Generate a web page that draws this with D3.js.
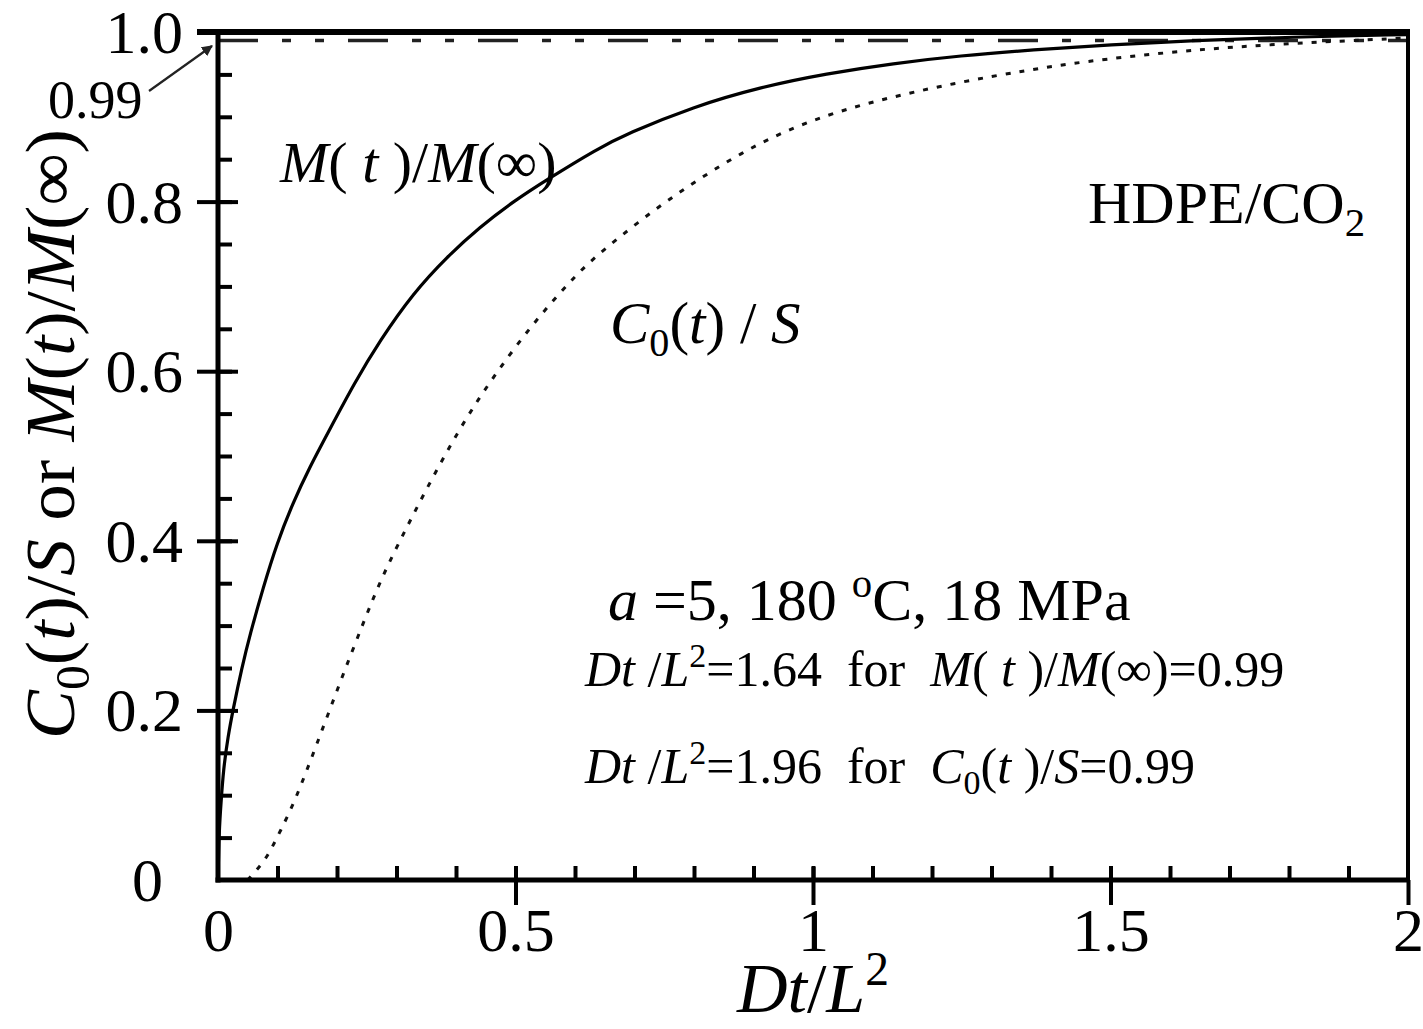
<!DOCTYPE html>
<html>
<head>
<meta charset="utf-8">
<script src="https://cdn.jsdelivr.net/npm/d3@7"></script>
<style>
  body { margin: 0; background: #fff; }
  svg text { font-family: "Liberation Serif", "Times New Roman", serif; fill: #000; white-space: pre; }
</style>
</head>
<body>
<div id="chart"></div>
<script>
// M(t)/M(inf) - solid curve
const mX = [0, 0.002, 0.005, 0.009, 0.017, 0.025, 0.04, 0.054, 0.076, 0.099, 0.126, 0.155, 0.183, 0.23, 0.272, 0.328, 0.385, 0.44, 0.496, 0.553, 0.637, 0.687, 0.799, 0.911, 1.023, 1.135, 1.247, 1.37, 1.5, 1.64, 1.8, 2.0];
const mY = [0, 0.06, 0.09, 0.13, 0.17, 0.2, 0.25, 0.29, 0.345, 0.397, 0.445, 0.488, 0.525, 0.587, 0.636, 0.692, 0.735, 0.77, 0.8, 0.826, 0.862, 0.88, 0.912, 0.935, 0.951, 0.963, 0.972, 0.979, 0.985, 0.99, 0.994, 0.997];

// C0(t)/S - dotted curve
const cX = [0.05, 0.065, 0.082, 0.105, 0.13, 0.166, 0.205, 0.244, 0.277, 0.318, 0.351, 0.407, 0.462, 0.53, 0.592, 0.63, 0.715, 0.799, 0.911, 1.023, 1.135, 1.247, 1.36, 1.454, 1.595, 1.718, 1.847, 2.0];
const cY = [0, 0.012, 0.026, 0.058, 0.094, 0.16, 0.233, 0.303, 0.36, 0.417, 0.462, 0.534, 0.593, 0.657, 0.706, 0.733, 0.781, 0.823, 0.871, 0.903, 0.924, 0.941, 0.955, 0.965, 0.976, 0.983, 0.988, 0.993];

const refLevel = 0.99;

const xMajor = [0, 0.5, 1, 1.5, 2];
const xMajorLabels = ["0", "0.5", "1", "1.5", "2"];
const xMinor = d3.range(1, 20).map(i => i / 10);
const yMajor = [0, 0.2, 0.4, 0.6, 0.8, 1.0];
const yMajorLabels = ["0", "0.2", "0.4", "0.6", "0.8", "1.0"];
const yMinor = d3.range(1, 20).map(i => i / 20);

// text pieces: i = italic, sub / sup
const yTitle = [{t: "C", i: 1}, {t: "0", sub: 1}, {t: "("}, {t: "t", i: 1}, {t: ")/"}, {t: "S", i: 1}, {t: " or "}, {t: "M", i: 1}, {t: "("}, {t: "t", i: 1}, {t: ")/"}, {t: "M", i: 1}, {t: "(∞)"}];
const xTitle = [{t: "Dt", i: 1}, {t: "/"}, {t: "L", i: 1}, {t: "2", sup: 1}];
const mLabel = [{t: "M", i: 1}, {t: "( "}, {t: "t", i: 1}, {t: " )/"}, {t: "M", i: 1}, {t: "(∞)"}];
const cLabel = [{t: "C", i: 1}, {t: "0", sub: 1}, {t: "("}, {t: "t", i: 1}, {t: ") / "}, {t: "S", i: 1}];
const sysLabel = [{t: "HDPE/CO"}, {t: "2", sub: 1}];
const condLabel = [{t: "a", i: 1}, {t: " =5, 180 "}, {t: "o", sup: 1}, {t: "C, 18 MPa"}];
const note1 = [{t: "Dt", i: 1}, {t: " /"}, {t: "L", i: 1}, {t: "2", sup: 1}, {t: "=1.64  for  "}, {t: "M", i: 1}, {t: "( "}, {t: "t", i: 1}, {t: " )/"}, {t: "M", i: 1}, {t: "(∞)=0.99"}];
const note2 = [{t: "Dt", i: 1}, {t: " /"}, {t: "L", i: 1}, {t: "2", sup: 1}, {t: "=1.96  for  "}, {t: "C", i: 1}, {t: "0", sub: 1}, {t: "("}, {t: "t", i: 1}, {t: " )/"}, {t: "S", i: 1}, {t: "=0.99"}];

const W = 1423, H = 1029;
const margin = {top: 32, right: 15, bottom: 149, left: 218};
const width = W - margin.left - margin.right;
const height = H - margin.top - margin.bottom;

const svg = d3.select("#chart").append("svg")
    .attr("width", W)
    .attr("height", H);

const g = svg.append("g")
    .attr("transform", `translate(${margin.left},${margin.top})`);

const x = d3.scaleLinear().domain([0, 2]).range([0, width]);
const y = d3.scaleLinear().domain([0, 1]).range([height, 0]);

function richText(parent, px, py, size, segs) {
    const t = parent.append("text")
        .attr("x", px)
        .attr("y", py)
        .style("font-size", size + "px");
    let shift = 0;
    segs.forEach(s => {
        const target = s.sub ? 0.22 * size : s.sup ? -0.38 * size : 0;
        t.append("tspan")
            .text(s.t)
            .attr("dy", target - shift)
            .style("font-style", s.i ? "italic" : "normal")
            .style("font-size", (s.sub || s.sup) ? (0.68 * size) + "px" : null);
        shift = target;
    });
    return t;
}

// minor ticks (inside)
g.append("g")
    .call(d3.axisRight(y).tickValues(yMinor).tickSize(14).tickFormat(""))
    .call(a => a.select(".domain").remove())
    .selectAll("line").attr("stroke-width", 4);

g.append("g")
    .attr("transform", `translate(0,${height})`)
    .call(d3.axisTop(x).tickValues(xMinor).tickSize(14).tickFormat(""))
    .call(a => a.select(".domain").remove())
    .selectAll("line").attr("stroke-width", 4);

// major ticks, inside part
g.append("g")
    .call(d3.axisRight(y).tickValues(yMajor.filter(v => v > 0)).tickSize(20).tickFormat(""))
    .call(a => a.select(".domain").remove())
    .selectAll("line").attr("stroke-width", 4);

g.append("g")
    .attr("transform", `translate(0,${height})`)
    .call(d3.axisTop(x).tickValues(xMajor.filter(v => v > 0 && v < 2)).tickSize(13).tickFormat(""))
    .call(a => a.select(".domain").remove())
    .selectAll("line").attr("stroke-width", 4);

// major ticks outside + labels
const yAx = g.append("g")
    .call(d3.axisLeft(y).tickValues(yMajor).tickSize(21).tickPadding(14)
        .tickFormat((d, i) => yMajorLabels[i]))
    .call(a => a.select(".domain").remove());
yAx.selectAll("line").attr("stroke-width", 4).filter(d => d === 0).remove();
yAx.selectAll("text").style("font-size", "62px").attr("dy", "0.33em")
    .filter(d => d === 0).attr("x", -55);

const xAx = g.append("g")
    .attr("transform", `translate(0,${height})`)
    .call(d3.axisBottom(x).tickValues(xMajor).tickSize(25).tickPadding(2)
        .tickFormat((d, i) => xMajorLabels[i]))
    .call(a => a.select(".domain").remove());
xAx.selectAll("line").attr("stroke-width", 4).filter(d => d === 0).remove();
xAx.selectAll("text").style("font-size", "62px").attr("dy", "0.71em");

// 0.99 reference line
g.append("line")
    .attr("x1", x(0)).attr("x2", x(2))
    .attr("y1", y(refLevel)).attr("y2", y(refLevel))
    .attr("stroke", "#222")
    .attr("stroke-width", 3.5)
    .attr("stroke-dasharray", "40,24,9,24,9,24");

// curves
const line = d3.line()
    .x(d => x(d[0]))
    .y(d => y(d[1]))
    .curve(d3.curveBasis);

g.append("path")
    .datum(mX.map((v, i) => [v, mY[i]]))
    .attr("fill", "none")
    .attr("stroke", "#000")
    .attr("stroke-width", 3.2)
    .attr("d", line);

g.append("path")
    .datum(cX.map((v, i) => [v, cY[i]]))
    .attr("fill", "none")
    .attr("stroke", "#111")
    .attr("stroke-width", 3)
    .attr("stroke-dasharray", "5,9")
    .attr("d", line);

// frame
g.append("line").attr("x1", 0).attr("x2", 0).attr("y1", -3).attr("y2", height + 2.5)
    .attr("stroke", "#000").attr("stroke-width", 5);
g.append("line").attr("x1", -2.5).attr("x2", width + 2).attr("y1", height).attr("y2", height)
    .attr("stroke", "#000").attr("stroke-width", 5);
g.append("line").attr("x1", -21).attr("x2", width + 2).attr("y1", 0).attr("y2", 0)
    .attr("stroke", "#000").attr("stroke-width", 6);
g.append("line").attr("x1", width).attr("x2", width).attr("y1", 0).attr("y2", height)
    .attr("stroke", "#000").attr("stroke-width", 4);

// 0.99 callout
svg.append("defs").append("marker")
    .attr("id", "arrow")
    .attr("viewBox", "0 0 10 10")
    .attr("refX", 9).attr("refY", 5)
    .attr("markerWidth", 5).attr("markerHeight", 5)
    .attr("orient", "auto")
    .append("path").attr("d", "M0,0 L10,5 L0,10 z").attr("fill", "#222");

svg.append("line")
    .attr("x1", 149).attr("y1", 91)
    .attr("x2", 212).attr("y2", 46)
    .attr("stroke", "#222").attr("stroke-width", 2.2)
    .attr("marker-end", "url(#arrow)");

svg.append("text")
    .attr("x", 48).attr("y", 118)
    .style("font-size", "54px")
    .text("0.99");

// axis titles
richText(svg.append("g").attr("transform", "translate(74,434) rotate(-90)"), 0, 0, 70, yTitle)
    .attr("text-anchor", "middle")
    .attr("textLength", 610)
    .attr("lengthAdjust", "spacingAndGlyphs");
richText(svg, x(1) + margin.left, 1012, 70, xTitle).attr("text-anchor", "middle");

// annotations
richText(svg, 280, 182, 58, mLabel);
richText(svg, 1088, 223, 60, sysLabel);
richText(svg, 610, 343, 59, cLabel);
richText(svg, 608, 620, 60, condLabel);
richText(svg, 585, 686, 50, note1);
richText(svg, 585, 783, 50, note2);
</script>
</body>
</html>
